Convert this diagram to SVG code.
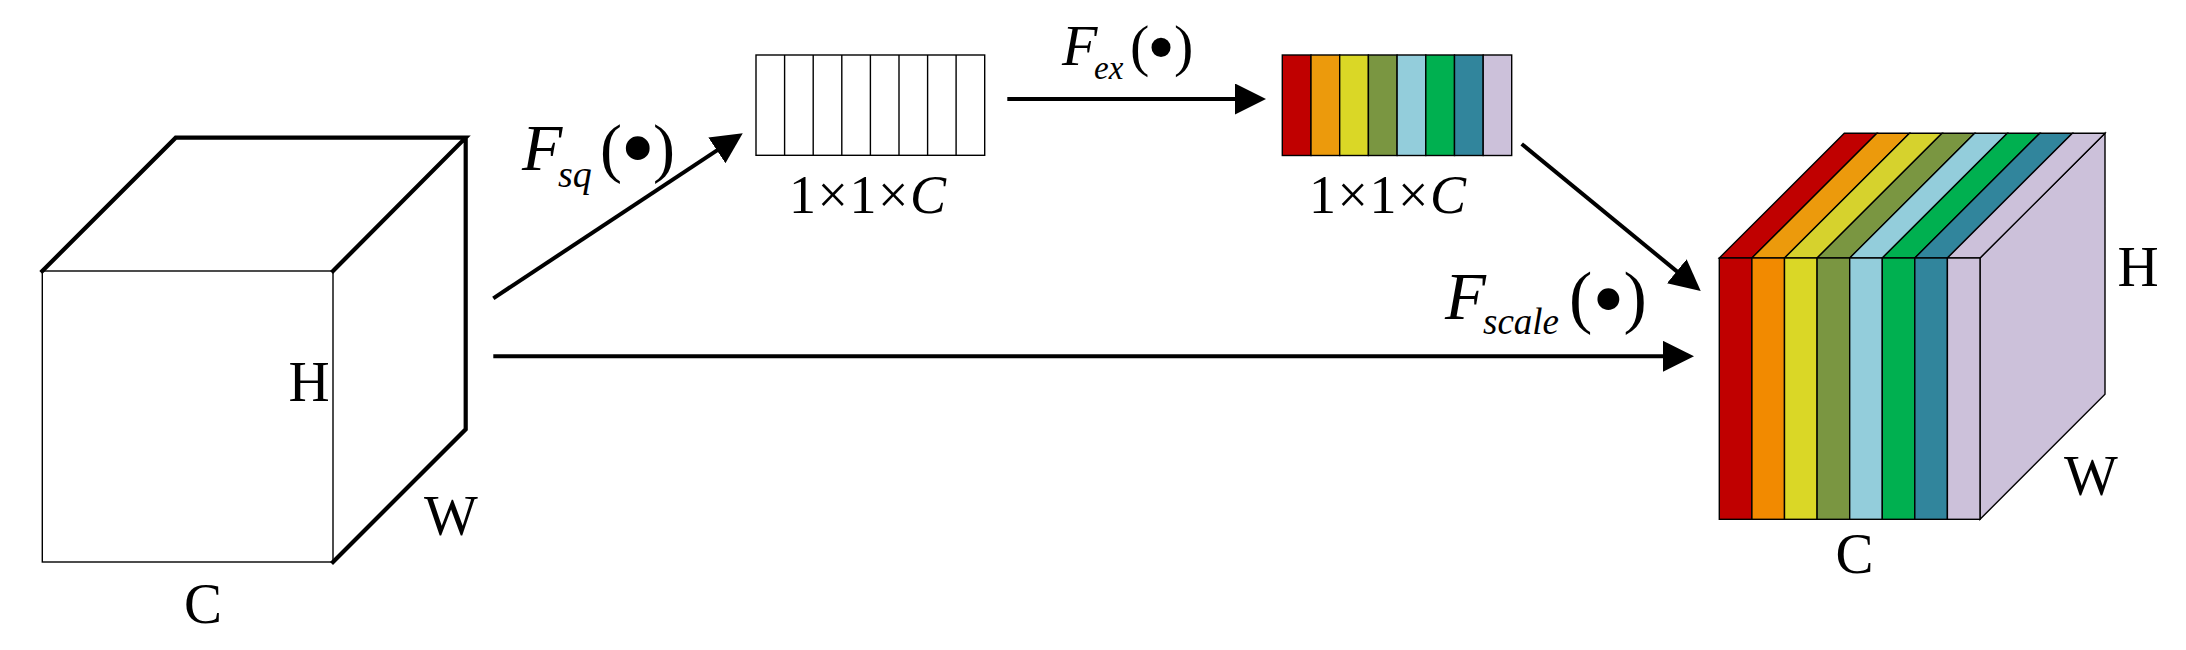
<svg xmlns="http://www.w3.org/2000/svg" width="2186" height="650" viewBox="0 0 2186 650">
<style>
.t{font-family:"Liberation Serif","Times New Roman",serif;fill:#000}
.i{font-style:italic}
.thin{fill:none;stroke:#000;stroke-width:1.4}
.thick{fill:none;stroke:#000;stroke-width:4.2;stroke-linejoin:miter;stroke-linecap:square}
.cell{stroke:#000;stroke-width:1.4}
.conn{fill:none;stroke:#000;stroke-width:4}
.c1{fill:#C00000}.c2{fill:#F28A00}.c2t{fill:#EC9A0C}.c3{fill:#DAD726}.c3t{fill:#D6D22D}.c4{fill:#7A9641}.c5{fill:#93CDDB}.c6{fill:#00B050}.c7{fill:#31859C}.c8{fill:#CCC1DA}
</style>
<defs>
<marker id="ah" markerUnits="userSpaceOnUse" markerWidth="32" markerHeight="32" refX="21" refY="15.5" orient="auto" viewBox="0 0 32 32">
<path d="M0,0 L31,15.5 L0,31 z" fill="#000"/>
</marker>
</defs>
<rect width="2186" height="650" fill="#fff"/>

<g id="input-cube">
<rect x="42.3" y="271" width="290.7" height="291" fill="#fff" class="thin"/>
<path class="thick" d="M42.3,271 L175.7,137.7 L465.7,137.7 L333,271 M465.7,137.7 L465.7,429.3 L333,562"/>
<text class="t" x="288.5" y="401" font-size="57">H</text>
<text class="t" x="424" y="535" font-size="57">W</text>
<text class="t" x="184" y="623" font-size="57">C</text>
</g>

<g id="squeeze-vector">
<rect x="756" y="55" width="228.7" height="100.3" fill="#fff" class="cell"/>
<path class="thin" d="M784.6,55V155.3M813.2,55V155.3M841.8,55V155.3M870.4,55V155.3M899,55V155.3M927.6,55V155.3M956.1,55V155.3"/>
<text class="t" x="789" y="212.7" font-size="54" letter-spacing="1.5">1×1×<tspan class="i">C</tspan></text>
</g>

<g id="excite-vector">
<rect class="c1 cell" x="1282.3" y="55" width="28.7" height="100.5"/>
<rect class="c2t cell" x="1311" y="55" width="28.7" height="100.5"/>
<rect class="c3 cell" x="1339.7" y="55" width="28.7" height="100.5"/>
<rect class="c4 cell" x="1368.4" y="55" width="28.7" height="100.5"/>
<rect class="c5 cell" x="1397.1" y="55" width="28.7" height="100.5"/>
<rect class="c6 cell" x="1425.8" y="55" width="28.7" height="100.5"/>
<rect class="c7 cell" x="1454.5" y="55" width="28.7" height="100.5"/>
<rect class="c8 cell" x="1483.2" y="55" width="28.5" height="100.5"/>
<text class="t" x="1309" y="212.7" font-size="54" letter-spacing="1.5">1×1×<tspan class="i">C</tspan></text>
</g>

<g id="output-cube">
<path class="c8 cell" d="M1980,258 L2105,133.3 L2105,394.3 L1980,519.3 z"/>
<path class="c1 cell" d="M1719.3,258 L1751.9,258 L1876.9,133.3 L1844.3,133.3 z"/>
<path class="c2t cell" d="M1751.9,258 L1784.5,258 L1909.5,133.3 L1876.9,133.3 z"/>
<path class="c3t cell" d="M1784.5,258 L1817.1,258 L1942.1,133.3 L1909.5,133.3 z"/>
<path class="c4 cell" d="M1817.1,258 L1849.7,258 L1974.7,133.3 L1942.1,133.3 z"/>
<path class="c5 cell" d="M1849.7,258 L1882.3,258 L2007.3,133.3 L1974.7,133.3 z"/>
<path class="c6 cell" d="M1882.3,258 L1914.8,258 L2039.8,133.3 L2007.3,133.3 z"/>
<path class="c7 cell" d="M1914.8,258 L1947.4,258 L2072.4,133.3 L2039.8,133.3 z"/>
<path class="c8 cell" d="M1947.4,258 L1980,258 L2105,133.3 L2072.4,133.3 z"/>
<rect class="c1 cell" x="1719.3" y="258" width="32.6" height="261.3"/>
<rect class="c2 cell" x="1751.9" y="258" width="32.6" height="261.3"/>
<rect class="c3 cell" x="1784.5" y="258" width="32.6" height="261.3"/>
<rect class="c4 cell" x="1817.1" y="258" width="32.6" height="261.3"/>
<rect class="c5 cell" x="1849.7" y="258" width="32.6" height="261.3"/>
<rect class="c6 cell" x="1882.3" y="258" width="32.5" height="261.3"/>
<rect class="c7 cell" x="1914.8" y="258" width="32.6" height="261.3"/>
<rect class="c8 cell" x="1947.4" y="258" width="32.6" height="261.3"/>
<text class="t" x="2117.5" y="285.7" font-size="57">H</text>
<text class="t" x="2064" y="495" font-size="57">W</text>
<text class="t" x="1835.5" y="573.3" font-size="57">C</text>
</g>

<g id="connectors">
<line class="conn" x1="493.3" y1="298.3" x2="734.4" y2="138.8" marker-end="url(#ah)"/>
<line class="conn" x1="1007.3" y1="99" x2="1256" y2="99" marker-end="url(#ah)"/>
<line class="conn" x1="1521.7" y1="144" x2="1693" y2="284.6" marker-end="url(#ah)"/>
<line class="conn" x1="493.3" y1="356.3" x2="1684" y2="356.3" marker-end="url(#ah)"/>
</g>

<g id="label-fsq">
<text class="t i" x="522" y="170" font-size="66">F</text>
<text class="t i" x="558" y="186.7" font-size="38">sq</text>
<text class="t" x="600" y="170" font-size="66">(</text>
<text class="t" x="637.7" y="181.3" font-size="100" text-anchor="middle">•</text>
<text class="t" x="653" y="170" font-size="66">)</text>
</g>

<g id="label-fex">
<text class="t i" x="1062" y="65" font-size="58">F</text>
<text class="t i" x="1094" y="79.3" font-size="33">ex</text>
<text class="t" x="1130" y="65" font-size="58">(</text>
<text class="t" x="1161" y="73.9" font-size="80" text-anchor="middle">•</text>
<text class="t" x="1174" y="65" font-size="58">)</text>
</g>

<g id="label-fscale">
<text class="t i" x="1445" y="319.3" font-size="67">F</text>
<text class="t i" x="1483" y="334" font-size="37">scale</text>
<text class="t" x="1569" y="320" font-size="70">(</text>
<text class="t" x="1608.3" y="329.4" font-size="92" text-anchor="middle">•</text>
<text class="t" x="1623.5" y="320" font-size="70">)</text>
</g>
</svg>
